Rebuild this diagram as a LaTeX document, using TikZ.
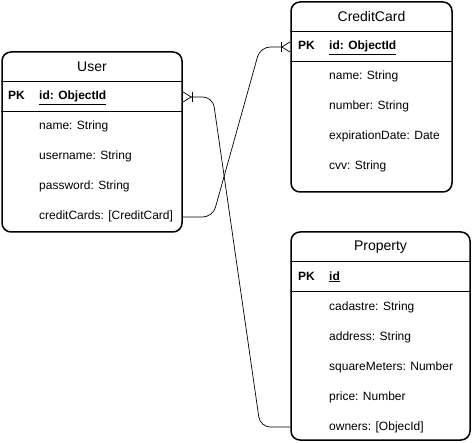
\documentclass[tikz,border=0pt]{standalone}
\usepackage{fontspec}
\setmainfont{Liberation Sans}
\usetikzlibrary{positioning,calc,arrows.meta}
\tikzset{
  >=stealth,
  my table/.style={
    draw,
    line width=1.5pt,
    rounded corners=9pt,
    inner sep=0pt,
    rectangle
  },
  my head/.style={font=\fontsize{14}{16}\selectfont,inner sep=0pt},
  my field/.style={
    anchor=west,
    inner sep=0pt,
    text height=9pt,
    text depth=3pt,
    font=\fontsize{12}{14}\selectfont
  },
  my key/.style={my field,font=\fontsize{12}{14}\selectfont\bfseries},
  my rule/.style={line width=1pt},
  my link/.style={
    line width=0.7pt,
    rounded corners=10pt,
    -{Bar[width=10pt,line width=0.7pt] Straight Barb[reversed,length=8pt,width=10pt,line width=0.7pt]}
  }
}
\newcommand{\pk}[1]{\underline{\textbf{#1}}}

\begin{document}
\begin{tikzpicture}[x=1pt,y=-1pt]
\useasboundingbox (0,0) rectangle (473,443);
% User
\node[my table,minimum width=180pt,minimum height=180pt] (user) at (92,142) {};
\node[my head] (user title) at (92,67) {User};
\draw[my rule] ($(user.north west)+(0,30)$) -- ($(user.north east)+(0,30)$);
\draw[my rule] ($(user.north west)+(0,60)$) -- ($(user.north east)+(0,60)$);
\node[my key] (user pk) at (8,97) {PK};
\node[my field] (user id) at (39,97) {\pk{id: ObjectId}};
\foreach \t [count=\i] in {name: String,username: String,password: String,creditCards: [CreditCard]}
  \node[my field] (user f\i) at (39,97+30*\i) {\t};
% CreditCard
\node[my table,minimum width=161pt,minimum height=190pt] (card) at (371.5,97) {};
\node[my head] (card title) at (371.5,17) {CreditCard};
\draw[my rule] ($(card.north west)+(0,30)$) -- ($(card.north east)+(0,30)$);
\draw[my rule] ($(card.north west)+(0,60)$) -- ($(card.north east)+(0,60)$);
\node[my key] (card pk) at (298,47) {PK};
\node[my field] (card id) at (329,47) {\pk{id: ObjectId}};
\foreach \t [count=\i] in {name: String,number: String,expirationDate: Date,cvv: String}
  \node[my field] (card f\i) at (329,47+30*\i) {\t};
% Property
\node[my table,minimum width=179pt,minimum height=208pt] (prop) at (380.5,336) {};
\node[my head] (prop title) at (380.5,247) {Property};
\draw[my rule] ($(prop.north west)+(0,30)$) -- ($(prop.north east)+(0,30)$);
\draw[my rule] ($(prop.north west)+(0,60)$) -- ($(prop.north east)+(0,60)$);
\node[my key] (prop pk) at (298,277) {PK};
\node[my field] (prop id) at (329,277) {\pk{id}};
\foreach \t [count=\i] in {cadastre: String,address: String,squareMeters: Number,price: Number,owners: [ObjecId]}
  \node[my field] (prop f\i) at (329,277+30*\i) {\t};
% links
\draw[my link] (user.east |- user f4) -- ++(30,0) -- ($(card.west |- card id)+(-30,0)$) -- (card.west |- card id);
\draw[my link] (prop.west |- prop f5) -- ++(-30,0) -- ($(user.east |- user id)+(30,0)$) -- (user.east |- user id);
\end{tikzpicture}
\end{document}
